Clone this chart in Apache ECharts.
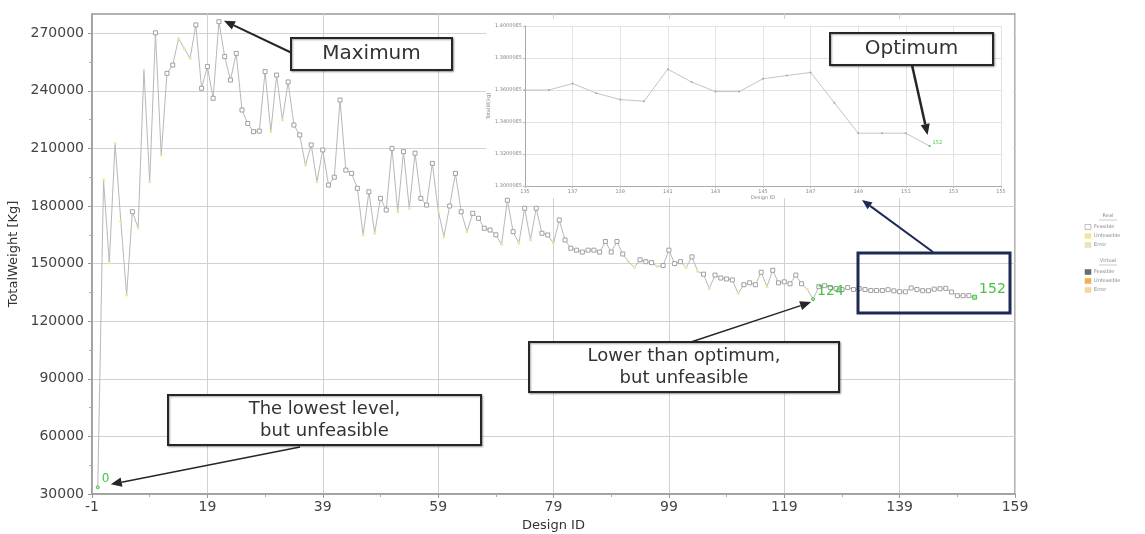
<!DOCTYPE html>
<html>
<head>
<meta charset="utf-8">
<script src="https://cdn.jsdelivr.net/npm/echarts@6/dist/echarts.min.js"></script>
<style>
  html, body { margin: 0; padding: 0; background: #ffffff; }
  #chart { width: 1145px; height: 534px; }
</style>
</head>
<body>
<div id="chart"></div>
<script>
// Total weight [kg] of every evaluated design; the array index is the Design ID (0..152)
const weights = [
  33500, 193500, 150300, 212600, 172000, 133600, 177000, 168500, 250800, 192600,
  270200, 206500, 249100, 253400, 267300, 262000, 256900, 274300, 241300, 252600,
  236100, 276000, 257800, 245600, 259500, 230000, 223000, 218700, 219000, 250000,
  218700, 248200, 224800, 244600, 222200, 217000, 201300, 211800, 192600, 209200,
  190900, 195000, 235200, 198700, 197000, 189200, 164900, 187400, 165800, 184000,
  177900, 210000, 177000, 208300, 178800, 207500, 184000, 180500, 202200, 177900,
  164000, 180000, 197000, 177000, 166600, 176200, 173600, 168400, 167500, 165000,
  160000, 183000, 166600, 160600, 178800, 162300, 178800, 165800, 164900, 160600,
  172700, 162300, 158000, 157000, 156000, 157000, 157000, 156000, 161500, 156000,
  161500, 155000, 151000, 148000, 152000, 151000, 150500, 148500, 149000, 157000,
  150000, 151000, 148000, 153500, 146000, 144500, 137000, 144000, 142500, 142000,
  141500, 134500, 139000, 140000, 139000, 145500, 138000, 146500, 140000, 140500,
  139500, 144000, 139500, 136500, 131500, 138000, 138500, 137500, 137000, 136500,
  137500, 136500, 137000, 136500, 136000, 136000, 136000, 136400, 135800, 135400,
  135300, 137300, 136500, 135900, 135900, 136700, 136900, 137100, 135200, 133300,
  133300, 133300, 132500
];

// 1 = feasible design, 0 = unfeasible design (same order as weights)
const feasible = [
  0, 0, 0, 0, 0, 0, 1, 0, 0, 0,
  1, 0, 1, 1, 0, 0, 0, 1, 1, 1,
  1, 1, 1, 1, 1, 1, 1, 1, 1, 1,
  0, 1, 0, 1, 1, 1, 0, 1, 0, 1,
  1, 1, 1, 1, 1, 1, 0, 1, 0, 1,
  1, 1, 0, 1, 0, 1, 1, 1, 1, 0,
  0, 1, 1, 1, 0, 1, 1, 1, 1, 1,
  0, 1, 1, 0, 1, 0, 1, 1, 1, 0,
  1, 1, 1, 1, 1, 1, 1, 1, 1, 1,
  1, 1, 0, 0, 1, 1, 1, 0, 1, 1,
  1, 1, 0, 1, 0, 1, 0, 1, 1, 1,
  1, 0, 1, 1, 1, 1, 0, 1, 1, 1,
  1, 1, 1, 0, 0, 1, 1, 1, 1, 1,
  1, 1, 1, 1, 1, 1, 1, 1, 1, 1,
  1, 1, 1, 1, 1, 1, 1, 1, 1, 1,
  1, 1, 1
];

// Designs that carry their ID as a label
const labelledIds = [0, 124, 152];
const maximumId = 21;
const lowestId = 0;
const belowOptimumId = 124;
const optimumId = 152;

// Zoomed window shown in the inset
const insetFirstId = 135;
const insetLastId = 152;

// Tick positions
const xTicks = [-1, 19, 39, 59, 79, 99, 119, 139, 159];
const xMinorTicks = [9, 29, 49, 69, 89, 109, 129, 149];
const yTicks = [30000, 60000, 90000, 120000, 150000, 180000, 210000, 240000, 270000];
const yMinorTicks = [45000, 75000, 105000, 135000, 165000, 195000, 225000, 255000];
const insetXTicks = [135, 137, 139, 141, 143, 145, 147, 149, 151, 153, 155];

const GREEN = '#45c445';
const LINE_GREY = '#b8b8b8';

function idLabel(size) {
  return {
    show: true, position: 'right', distance: 2, offset: [0, -8],
    color: GREEN, fontSize: size, fontFamily: 'DejaVu Sans',
    formatter: p => String(p.value[0])
  };
}

const mainData = weights.map((w, id) => {
  const ok = feasible[id] === 1;
  const item = {
    value: [id, w],
    symbol: ok ? 'rect' : 'circle',
    symbolSize: ok ? 4 : 3,
    itemStyle: ok
      ? { color: '#ffffff', borderColor: '#a0a0a0', borderWidth: 1 }
      : { color: '#eee6a6', borderWidth: 0 }
  };
  if (labelledIds.includes(id)) {
    item.label = idLabel(id === 0 ? 12 : 14);
    item.itemStyle = { color: '#bfe8b0', borderColor: GREEN, borderWidth: 1 };
  }
  return item;
});

const insetData = weights.slice(insetFirstId, insetLastId + 1).map((w, k) => {
  const id = insetFirstId + k;
  const item = { value: [id, w] };
  if (id === optimumId) {
    item.label = {
      show: true, position: 'right', distance: 2, offset: [0, -3],
      color: GREEN, fontSize: 5, fontFamily: 'DejaVu Sans',
      formatter: p => String(p.value[0])
    };
    item.itemStyle = { color: GREEN };
  }
  return item;
});

const axisFont = { color: '#444', fontSize: 14, fontFamily: 'DejaVu Sans' };
const tinyFont = { color: '#888', fontSize: 5, fontFamily: 'DejaVu Sans' };

const chart = echarts.init(document.getElementById('chart'), null, { renderer: 'canvas' });

chart.setOption({
  backgroundColor: '#ffffff',
  animation: false,
  grid: [
    { left: 92, right: 130, top: 14, bottom: 40, containLabel: false, outerBoundsMode: 'none',
      show: true, borderColor: '#9a9a9a', borderWidth: 1.5, backgroundColor: 'transparent' },
    { left: 525, right: 144, top: 26, bottom: 348, containLabel: false, outerBoundsMode: 'none', show: false }
  ],
  xAxis: [
    {
      gridIndex: 0, type: 'value', min: -1, max: 159,
      axisLine: { onZero: false, lineStyle: { color: '#9a9a9a', width: 1.5 } },
      axisTick: { customValues: xTicks, length: 4, lineStyle: { color: '#999' } },
      axisLabel: { customValues: xTicks, margin: 6, ...axisFont, formatter: v => String(v) },
      splitLine: { show: true, lineStyle: { color: '#d2d2d2', width: 1 } },
      name: 'Design ID', nameLocation: 'middle', nameGap: 23,
      nameTextStyle: { color: '#333', fontSize: 13, fontFamily: 'DejaVu Sans' }
    },
    {
      gridIndex: 0, type: 'value', min: -1, max: 159, position: 'bottom',
      axisLine: { show: false, onZero: false },
      axisTick: { customValues: xMinorTicks, length: 3, lineStyle: { color: '#aaa' } },
      axisLabel: { show: false },
      splitLine: { show: false }
    },
    {
      gridIndex: 1, type: 'value', min: 135, max: 155, z: 3,
      axisLine: { onZero: false, lineStyle: { color: '#aaa', width: 1 } },
      axisTick: { customValues: insetXTicks, length: 2, lineStyle: { color: '#bbb' } },
      axisLabel: { customValues: insetXTicks, margin: 3, ...tinyFont },
      splitLine: { show: true, lineStyle: { color: '#e2e2e2', width: 1 } },
      name: 'Design ID', nameLocation: 'middle', nameGap: 9,
      nameTextStyle: tinyFont
    }
  ],
  yAxis: [
    {
      gridIndex: 0, type: 'value', min: 30000, max: 280000, position: 'left',
      axisLine: { show: true, onZero: false, lineStyle: { color: '#9a9a9a', width: 1.5 } },
      axisTick: { customValues: yTicks, length: 4, lineStyle: { color: '#999' } },
      axisLabel: { customValues: yTicks, margin: 8, ...axisFont, formatter: v => String(v) },
      splitLine: { show: true, lineStyle: { color: '#d2d2d2', width: 1 } },
      name: 'TotalWeight [Kg]', nameLocation: 'middle', nameGap: 66, nameRotate: 90,
      nameTextStyle: { color: '#333', fontSize: 13, fontFamily: 'DejaVu Sans' }
    },
    {
      gridIndex: 0, type: 'value', min: 30000, max: 280000, position: 'left',
      axisLine: { show: false, onZero: false },
      axisTick: { customValues: yMinorTicks, length: 3, lineStyle: { color: '#aaa' } },
      axisLabel: { show: false },
      splitLine: { show: false }
    },
    {
      gridIndex: 1, type: 'value', min: 130000, max: 140000, interval: 2000, z: 3,
      axisLine: { show: true, onZero: false, lineStyle: { color: '#aaa', width: 1 } },
      axisTick: { show: true, length: 2, lineStyle: { color: '#bbb' } },
      axisLabel: { margin: 3, ...tinyFont, formatter: v => (v / 100000).toFixed(5) + 'E5' },
      splitLine: { show: true, lineStyle: { color: '#e2e2e2', width: 1 } },
      name: 'TotalW[kg]', nameLocation: 'middle', nameGap: 28, nameRotate: 90,
      nameTextStyle: tinyFont
    }
  ],
  series: [
    {
      type: 'line', xAxisIndex: 0, yAxisIndex: 0, z: 2,
      data: mainData,
      showAllSymbol: true,
      lineStyle: { color: LINE_GREY, width: 1 }
    },
    {
      type: 'line', xAxisIndex: 2, yAxisIndex: 2, z: 4,
      data: insetData,
      symbol: 'circle', symbolSize: 2,
      itemStyle: { color: '#a8a8a8' },
      lineStyle: { color: '#c4c4c4', width: 1 }
    }
  ]
});

// ---- annotations -------------------------------------------------------

function arrow(x1, y1, x2, y2, color, width, head) {
  const ang = Math.atan2(y2 - y1, x2 - x1);
  const hl = head, hw = head * 0.42;
  const bx = x2 - hl * Math.cos(ang), by = y2 - hl * Math.sin(ang);
  const nx = -Math.sin(ang) * hw, ny = Math.cos(ang) * hw;
  return [
    { type: 'line', z: 20, shape: { x1, y1, x2: bx, y2: by }, style: { stroke: color, lineWidth: width } },
    { type: 'polygon', z: 20, shape: { points: [[x2, y2], [bx + nx, by + ny], [bx - nx, by - ny]] }, style: { fill: color } }
  ];
}

function noteBox(x, y, w, h, text, size, lineHeight) {
  return [
    {
      type: 'rect', z: 21, shape: { x, y, width: w, height: h },
      style: { fill: '#ffffff', stroke: '#262626', lineWidth: 2,
               shadowBlur: 2, shadowOffsetX: 1, shadowOffsetY: 1, shadowColor: 'rgba(0,0,0,0.35)' }
    },
    {
      type: 'text', z: 22,
      style: { x: x + w / 2, y: y + h / 2, text, align: 'center', verticalAlign: 'middle',
               fill: '#333', fontSize: size, fontFamily: 'DejaVu Sans', lineHeight: lineHeight || size + 2 }
    }
  ];
}

function legendBlock(headerY, header, entries) {
  const els = [
    { type: 'text', z: 22, style: { x: 1108, y: headerY, text: header, align: 'center', verticalAlign: 'middle', fill: '#888', fontSize: 5, fontFamily: 'DejaVu Sans' } },
    { type: 'line', z: 22, shape: { x1: 1099, y1: headerY + 4, x2: 1117, y2: headerY + 4 }, style: { stroke: '#aaa', lineWidth: 0.6 } }
  ];
  entries.forEach((e, i) => {
    const y = headerY + 11 + i * 9;
    els.push({ type: 'rect', z: 22, shape: { x: 1085, y: y - 2.5, width: 6, height: 5 }, style: { fill: e.fill, stroke: e.stroke || e.fill, lineWidth: 0.6 } });
    els.push({ type: 'text', z: 22, style: { x: 1094, y, text: e.name, align: 'left', verticalAlign: 'middle', fill: '#888', fontSize: 5, fontFamily: 'DejaVu Sans' } });
  });
  return els;
}

function drawAnnotations() {
  const px = (id) => chart.convertToPixel({ xAxisIndex: 0, yAxisIndex: 0 }, [id, weights[id]]);
  const pxInset = (id) => chart.convertToPixel({ xAxisIndex: 2, yAxisIndex: 2 }, [id, weights[id]]);

  const pMax = px(maximumId);
  const pLow = px(lowestId);
  const pBelow = px(belowOptimumId);
  const pOpt = pxInset(optimumId);

  const els = [];
  // white panel behind the zoomed inset
  els.push({ type: 'rect', z: 1, shape: { x: 486, y: 19, width: 527, height: 179 }, style: { fill: '#ffffff' } });

  // highlighted window on the main curve
  els.push({ type: 'rect', z: 19, shape: { x: 858, y: 253, width: 152, height: 60 },
             style: { fill: 'none', stroke: '#1c2a55', lineWidth: 3 } });
  els.push(...arrow(933, 252, 862, 200, '#1c2a55', 2, 10));

  els.push(...arrow(292, 53, pMax[0] + 5, pMax[1] - 1, '#262626', 2, 11));
  els.push(...noteBox(291, 38, 161, 32, 'Maximum', 20));

  els.push(...arrow(912, 65, pOpt[0] - 2, pOpt[1] - 11, '#262626', 2.5, 11));
  els.push(...noteBox(830, 33, 163, 32, 'Optimum', 20));

  els.push(...arrow(300, 447, pLow[0] + 13, pLow[1] - 3, '#262626', 1.5, 11));
  els.push(...noteBox(168, 395, 313, 50, 'The lowest level,\nbut unfeasible', 18, 22));

  els.push(...arrow(688, 343, pBelow[0] - 2, pBelow[1] + 3, '#262626', 1.5, 11));
  els.push(...noteBox(529, 342, 310, 50, 'Lower than optimum,\nbut unfeasible', 18, 22));

  // design-state key
  els.push(...legendBlock(216, 'Real', [
    { name: 'Feasible', fill: '#ffffff', stroke: '#999' },
    { name: 'Unfeasible', fill: '#efe7a0' },
    { name: 'Error', fill: '#ebe2b8' }
  ]));
  els.push(...legendBlock(261, 'Virtual', [
    { name: 'Feasible', fill: '#6b6b6b' },
    { name: 'Unfeasible', fill: '#efb24a' },
    { name: 'Error', fill: '#f3d7a4' }
  ]));

  chart.setOption({ graphic: { elements: els } });
}

drawAnnotations();
</script>
</body>
</html>
